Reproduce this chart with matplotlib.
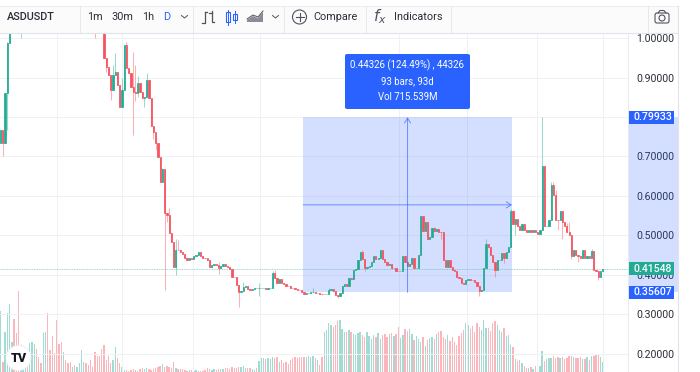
import matplotlib
matplotlib.use('Agg')
import matplotlib.pyplot as plt
import numpy as np
from matplotlib.patches import Rectangle, FancyBboxPatch, Circle
from matplotlib.transforms import blended_transform_factory

plt.rcParams['font.family'] = ['Roboto', 'DejaVu Sans']

RED = '#f7525f'
GREEN = '#22ab94'
BLUE = '#2962ff'
TEXT = '#2a2e39'

first_open = 0.734
closes = [
    .767, .734, .861, .987, 1.04, 1.22, 1.18, 1.14, 1.09, 1.12,
    1.16, 1.21, 1.17, 1.22, 1.28, 1.34, 1.30, 1.27, 1.25, 1.31,
    1.38, 1.33, 1.29, 1.26, 1.24, 1.20, 1.18, 1.15, 1.17, 1.16,
    1.15, 1.14, 1.15, 1.14, 1.15, 1.16, 1.19, 1.20, 1.19, 1.18,
    1.16, 1.15, 1.11, 1.09, 1.07, 1.04, .949, .927, .906, .868,
    .906, .914, .881, .826, .868, .982, .924, .911, .876, .863,
    .861, .886, .863, .848, .851, .894, .848, .777, .762, .734,
    .699, .636, .669, .557, .552, .507, .484, .421, .464, .462,
    .457, .452, .444, .437, .444, .441, .449, .451, .459, .448,
    .444, .443, .437, .419, .426, .428, .426, .417, .423, .427,
    .423, .420, .415, .396, .395, .375, .358, .360, .369, .371,
    .364, .363, .365, .367, .366, .367, .367, .367, .365, .367,
    .368, .406, .392, .379, .390, .379, .377, .373, .371, .368,
    .367, .365, .363, .361, .358, .352, .354, .355, .356, .357,
    .354, .355, .352, .351, .351, .352, .363, .365, .360, .349,
    .346, .354, .373, .377, .373, .392, .389, .413, .415, .437,
    .459, .441, .417, .420, .423, .434, .447, .440, .443, .464,
    .440, .432, .426, .428, .417, .417, .411, .409, .411, .449,
    .434, .423, .427, .443, .417, .417, .451, .550, .512, .533,
    .491, .497, .518, .512, .516, .510, .508, .437, .420, .437,
    .420, .413, .409, .395, .392, .379, .378, .386, .389, .388,
    .386, .381, .373, .360, .363, .417, .479, .470, .451, .434,
    .413, .437, .437, .455, .443, .459, .472, .563, .529, .541,
    .525, .514, .529, .514, .510, .514, .510, .514, .508, .504,
    .514, .677, .523, .524, .540, .628, .603, .540, .539, .563,
    .535, .523, .510, .502, .447, .462, .451, .449, .443, .462,
    .444, .447, .444, .461, .413, .411, .396, .409, .4155,
]
volumes = [
    12.2, 2.0, 8.0, 11.8, 13.6, 6.0, 10.6, 7.8, 16.2, 5.4,
    5.0, 4.0, 3.0, 5.8, 6.0, 5.6, 4.6, 3.0, 1.8, 7.8,
    8.0, 11.8, 4.4, 7.2, 3.8, 10.4, 5.6, 6.0, 4.0, 2.4,
    1.8, 2.0, 1.0, 1.4, 1.0, 1.8, 4.4, 2.0, 1.9, 1.4,
    2.4, 1.0, 4.0, 3.2, 3.2, 4.6, 5.4, 2.4, 3.2, 1.8,
    2.4, 5.0, 2.8, 1.8, 1.0, .4, .5, .3, .4, .7,
    .5, .3, .6, .8, .6, .9, .7, .5, .6, .8,
    1.0, 1.3, 1.7, 1.0, 1.3, 1.0, .9, 2.0, .8, .6,
    .7, .6, .4, .3, .4, .5, .3, .4, .2, .3,
    .3, .4, .8, .7, .5, .6, .5, .7, .6, .7,
    .9, .8, .7, 1.0, .9, .8, 1.0, 1.1, 1.3, .9,
    .8, .9, .7, .5, .8, 2.2, 2.8, 2.8, 2.6, 2.9,
    2.7, 3.0, 2.8, 3.0, 2.0, 2.4, 1.8, 2.0, 1.7, 2.4,
    2.9, 3.0, 2.9, 3.0, 3.0, 3.0, 3.0, 3.2, 3.0, 3.3,
    2.9, 2.4, 1.4, 3.1, 8.0, 8.4, 9.9, 9.4, 9.1, 9.5,
    10.3, 10.4, 8.7, 8.0, 8.0, 8.4, 8.0, 7.7, 7.4, 7.8,
    8.0, 7.5, 7.0, 8.0, 7.3, 6.7, 7.5, 7.0, 7.8, 6.6,
    7.4, 7.6, 7.0, 7.7, 7.9, 7.2, 7.6, 9.1, 6.9, 7.4,
    8.7, 8.3, 8.7, 7.6, 6.4, 7.2, 6.7, 6.1, 7.1, 5.2,
    6.5, 6.8, 7.0, 6.6, 7.7, 8.0, 8.2, 7.0, 6.6, 7.5,
    6.3, 7.1, 6.0, 5.4, 7.3, 7.8, 8.5, 9.9, 9.5, 8.7,
    9.2, 8.0, 9.8, 9.1, 8.5, 10.4, 8.9, 8.9, 8.2, 9.8,
    10.3, 9.5, 8.4, 8.0, 8.8, 7.3, 7.5, 5.4, 5.0, 2.6,
    2.2, 2.4, 1.8, 1.3, .9, .8, 1.0, .7, 1.2, 1.6,
    1.3, 4.3, 2.2, 2.6, 2.8, 2.9, 3.2, 2.9, 3.0, 2.8,
    3.1, 2.6, 2.8, 3.2, 3.3, 3.0, 2.9, 2.8, 3.1, 2.7,
    2.6, 3.0, 2.4, 3.2, 3.3, 3.4, 3.4, 3.0, 2.0,
]
# only the wicks long enough to see
wick_highs = {3: .99, 47: .949, 50: .932, 51: .962, 54: .90, 56: .99, 59: .965, 60: .932,
              61: .905, 65: .911, 69: .75, 72: .672, 75: .57, 78: .49, 79: .489, 97: .432,
              108: .381, 115: .379, 121: .41, 122: .413, 139: .366, 146: .368, 161: .464,
              193: .521, 216: .491, 227: .566, 228: .565, 241: .79933, 245: .636, 246: .636,
              247: .615, 250: .563, 252: .531, 253: .533, 263: .466}
wick_lows = {1: .70, 3: .767, 9: .9995, 42: .9995, 47: .914, 49: .843, 59: .755, 60: .84,
             61: .85, 64: .826, 68: .745, 69: .717, 73: .362, 74: .535, 78: .40, 97: .403,
             106: .320, 115: .347, 150: .341, 162: .41, 196: .49, 213: .346, 220: .396,
             224: .43, 229: .502, 242: .523, 248: .514, 250: .49, 254: .44, 257: .434,
             266: .386}
price_ticks = [1.0, 0.9, 0.8, 0.7, 0.6, 0.5, 0.4, 0.3, 0.2]
grid_bars = [25, 54, 85.6, 115.6, 177.3, 207.4, 238.6, 268]
box_start, box_end = 134.6, 227.6
box_low, box_high = 0.35607, 0.79933
arrow_bar = 181.1
arrow_price = 0.5775
last_price = 0.41548

closes = np.array(closes)
volumes = np.array(volumes)
opens = np.r_[first_open, closes[:-1]]
bars = np.arange(len(closes))
up = closes >= opens
colors = np.where(up, GREEN, RED)
highs = np.maximum(opens, closes)
lows = np.minimum(opens, closes)
for k, v in wick_highs.items():
    highs[k] = v
for k, v in wick_lows.items():
    lows[k] = v

W, H = 700, 372
fig = plt.figure(figsize=(W / 100, H / 100), dpi=100, facecolor='white')
pos = [0, 0, 628 / W, (H - 33) / H]
xlim = (-0.27, 279.2)

# volume sits behind the candles
vax = fig.add_axes(pos, zorder=1)
vax.set_xlim(xlim)
vax.set_ylim(0, 67.8)
vax.axis('off')
vax.bar(bars, volumes, width=0.6, color=colors, alpha=0.42, linewidth=0)

ax = fig.add_axes(pos, zorder=2)
ax.patch.set_visible(False)
ax.set_xlim(xlim)
ax.set_ylim(0.1542, 1.0127)
for s in ax.spines.values():
    s.set_visible(False)
ax.yaxis.tick_right()
ax.set_yticks(price_ticks)
# 0.80000 is fully covered by the 0.79933 label in the reference
ax.set_yticklabels(['' if p == 0.8 else '%.5f' % p for p in price_ticks], fontsize=7.6, color=TEXT)
ax.tick_params(axis='y', length=0, pad=6)
ax.set_xticks(grid_bars)
ax.tick_params(axis='x', length=0, labelbottom=False)
ax.grid(True, color='#f0f1f4', lw=0.7)
ax.set_axisbelow(True)

side = blended_transform_factory(ax.transAxes, ax.transData)
ax.add_patch(Rectangle((box_start, box_low), box_end - box_start, box_high - box_low,
                       color=BLUE, alpha=0.2, lw=0, zorder=1))
ax.add_patch(Rectangle((1, box_low), 50 / 628, box_high - box_low, transform=side,
                       color=BLUE, alpha=0.2, lw=0, clip_on=False, zorder=1))

ax.axhline(last_price, color=GREEN, lw=0.6, ls=(0, (1, 1)), alpha=0.6, zorder=2)
ax.vlines(bars, lows, highs, colors=colors, lw=0.75, alpha=0.45, zorder=3)
ax.bar(bars, np.abs(closes - opens), bottom=np.minimum(opens, closes), width=0.55,
       color=colors, edgecolor=colors, linewidth=0.55, zorder=4)

ax.annotate('', xy=(arrow_bar, box_high), xytext=(arrow_bar, box_low), zorder=5,
            arrowprops=dict(arrowstyle='->,head_width=0.22,head_length=0.35', color=BLUE,
                            lw=0.7, alpha=0.65, shrinkA=0, shrinkB=0))
ax.annotate('', xy=(box_end, arrow_price), xytext=(box_start, arrow_price), zorder=5,
            arrowprops=dict(arrowstyle='->,head_width=0.22,head_length=0.35', color=BLUE,
                            lw=0.7, alpha=0.65, shrinkA=0, shrinkB=0))

# price labels on the scale
label_h = 0.033
for price, col, txt in [(box_high, BLUE, '0.79933'), (last_price, GREEN, '0.41548'),
                        (box_low, BLUE, '0.35607')]:
    ax.add_patch(Rectangle((1, price - label_h / 2), 46 / 628, label_h, transform=side,
                           color=col, lw=0, clip_on=False, zorder=10))
    ax.text(1 + 25 / 628, price, txt, transform=side, color='white', fontsize=7.6,
            fontweight='medium', ha='center', va='center', zorder=11, clip_on=False)

# screen furniture in pixel space
ui = fig.add_axes([0, 0, 1, 1], zorder=3)
ui.patch.set_visible(False)
ui.set_xlim(0, W)
ui.set_ylim(H, 0)
ui.axis('off')
ui.add_patch(Rectangle((0, 6), 678, 26.5, color='#fbfbfc', lw=0))
ui.plot([0, 678], [6, 6], color='#eceef2', lw=0.8)
ui.plot([0, 678], [32.5, 32.5], color='#e0e3eb', lw=0.8)
ui.plot([678, 678], [6, H], color='#e0e3eb', lw=0.8)
ui.plot([627.7, 627.7], [33, H], color='#e8eaf0', lw=0.7)
for x in [80, 193, 284, 365.5, 451, 647.5]:
    ui.plot([x, x], [6, 32], color='#e6e8ee', lw=0.7)

ui.text(7, 17.5, 'ASDUSDT', fontsize=7.8, fontweight='medium', color=TEXT, va='center')
for x, lab, col in [(94.5, '1m', TEXT), (122, '30m', TEXT), (148, '1h', TEXT), (167, 'D', BLUE)]:
    ui.text(x, 17.5, lab, fontsize=7.8, color=col, ha='center', va='center')
ui.text(313, 17.5, 'Compare', fontsize=7.8, color=TEXT, va='center')
ui.text(394, 17.5, 'Indicators', fontsize=7.8, color=TEXT, va='center')
ui.text(380, 17, r'$f_x$', fontsize=11, color='#50535e', ha='center', va='center')

for x in [184.5, 275.5]:
    ui.plot([x - 3, x, x + 3], [15.5, 18, 15.5], color='#50535e', lw=0.7)
# bar style icons
ui.plot([204.5, 204.5, 202], [12, 23, 23], color='#50535e', lw=0.9)
ui.plot([204.5, 207], [12, 12], color='#50535e', lw=0.9)
ui.plot([211.5, 211.5, 214], [11, 22, 22], color='#50535e', lw=0.9)
ui.plot([209, 211.5], [13, 13], color='#50535e', lw=0.9)
ui.plot([228, 228], [10, 25], color=BLUE, lw=0.7)
ui.add_patch(Rectangle((226, 12), 4, 10, fc='white', ec=BLUE, lw=0.8))
ui.plot([235, 235], [11, 23], color=BLUE, lw=0.7)
ui.add_patch(Rectangle((233, 14), 4, 6, fc='white', ec=BLUE, lw=0.8))
ui.fill([247, 253, 258, 263, 263, 247], [20, 16, 18, 12, 22, 22], color='#8a8d96', lw=0)
ui.plot([247, 253, 258, 263], [19, 15, 17, 11], color='#50535e', lw=0.7)
ui.add_patch(Circle((299.5, 17), 7, fc='none', ec='#50535e', lw=0.8))
ui.plot([295.5, 303.5], [17, 17], color='#50535e', lw=0.8)
ui.plot([299.5, 299.5], [13, 21], color='#50535e', lw=0.8)
# camera
ui.add_patch(FancyBboxPatch((655, 13), 14, 10, boxstyle='round,pad=0,rounding_size=2',
                            fc='none', ec='#50535e', lw=0.8))
ui.plot([658, 660, 664, 666], [13, 10.5, 10.5, 13], color='#50535e', lw=0.8)
ui.add_patch(Circle((662, 18), 3, fc='none', ec='#50535e', lw=0.8))

# measure tooltip
ui.add_patch(FancyBboxPatch((345, 54), 125, 55, boxstyle='round,pad=0,rounding_size=2',
                            fc=BLUE, ec='none'))
for y, txt in [(65.5, '0.44326 (124.49%) , 44326'), (81.5, '93 bars, 93d'), (97, 'Vol 715.539M')]:
    ui.text(407.5, y, txt, color='white', fontsize=6.9, ha='center', va='center')

# logo
ui.add_patch(Circle((18.5, 358), 12.5, fc='white', ec='#eeeff2', lw=0.6))
ui.text(18.5, 358, 'TV', color='#131722', fontsize=9, fontweight='black', ha='center', va='center')

fig.savefig('out.png', dpi=100)
